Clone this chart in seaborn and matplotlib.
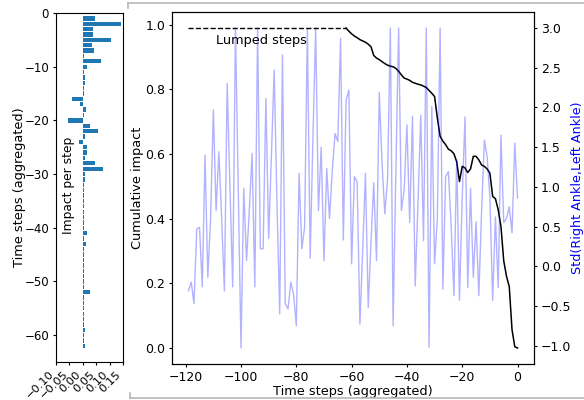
import numpy as np
import pandas as pd
import seaborn as sns
import matplotlib.pyplot as plt
from matplotlib.lines import Line2D

# impact per aggregated step (t = -1 ... -62)
steps = list(range(-1, -63, -1))
impact = [0.046, 0.143, 0.0375, 0.0375, 0.105, 0.035, 0.0425, 0.005, 0.069, 0.0175,
          0.005, 0.009, 0.009, 0.005, 0.004, -0.041, -0.010, 0.0125, 0.004, -0.054,
          0.0275, 0.055, 0.0075, -0.0125, 0.0175, 0.0175, 0.0075, 0.046, 0.074, 0.009,
          0.010, 0.005, 0.005, 0.006, 0.004, 0.004, 0.005, 0.006, 0.004, 0.004,
          0.015, 0.004, 0.0125, 0.004, 0.004, 0.005, 0.004, 0.004, 0.005, 0.004,
          0.004, 0.0275, 0.004, 0.004, 0.004, 0.004, 0.005, 0.004, 0.009, 0.004,
          0.004, 0.009]

# cumulative impact (t = -62 ... 0)
cum_steps = list(range(-62, 1))
cum_impact = [0.99, 0.98, 0.972, 0.965, 0.96, 0.954, 0.95, 0.946, 0.94, 0.932,
              0.905, 0.897, 0.892, 0.886, 0.88, 0.875, 0.872, 0.87, 0.865, 0.856,
              0.845, 0.835, 0.832, 0.828, 0.822, 0.819, 0.816, 0.814, 0.81, 0.806,
              0.797, 0.788, 0.778, 0.712, 0.655, 0.64, 0.629, 0.615, 0.61, 0.601,
              0.576, 0.515, 0.562, 0.557, 0.543, 0.554, 0.593, 0.593, 0.582, 0.566,
              0.562, 0.554, 0.541, 0.469, 0.462, 0.428, 0.376, 0.27, 0.222, 0.19,
              0.057, 0.004, 0.0]

# lumped steps before the detailed window
lumped_x = [-119, -62]
lumped_y = [0.99, 0.99]

# std of right/left ankle (t = -119 ... 0)
std_steps = list(range(-119, 1))
std_vals = [-0.31, -0.20, -0.47, 0.47, 0.49, -0.26, 1.40, -0.14, 0.6, 1.97,
            0.70, 1.44, 0.6, -0.31, 2.30, 1.0, -0.26, 3.0, 1.0, -1.03,
            0.98, 0.07, 0.7, 1.42, -0.26, 3.0, 0.22, 0.22, 2.11, 0.35,
            1.4, 2.47, 0.8, -0.60, 2.66, -0.47, -0.54, -0.20, -0.35, -0.75,
            1.17, 0.22, 0.49, 3.0, 0.1, 1.6, 3.0, 0.70, 1.50, 0.07,
            1.23, 0.6, 1.2, 1.67, 1.57, 2.87, 0.33, 2.09, 2.22, 0.03,
            1.13, 1.06, -0.73, 0.2, 1.17, -0.52, 0.3, 1.05, 0.07, 2.19,
            1.3, 0.66, 1.1, 3.0, -0.75, 1.2, 3.0, 0.70, 0.96, 1.78,
            0.55, 1.89, -0.25, 0.8, 1.90, 0.32, 3.0, -1.02, 2.01, 0.03,
            0.6, 3.0, -0.29, 1.13, 1.19, 0.5, -0.37, 1.34, -0.43, 0.87,
            1.88, -0.27, 0.98, -0.14, 0.56, -0.37, 0.7, 1.59, 1.38, 0.87,
            -0.43, 0.62, -0.27, 1.65, 0.55, 0.6, 0.75, 0.42, 1.55, 0.86]

df_bar = pd.DataFrame({"step": steps, "impact": impact})

plt.rcParams["xtick.major.size"] = 2.5
plt.rcParams["ytick.major.size"] = 2.5
plt.rcParams["xtick.major.pad"] = 2.5
plt.rcParams["ytick.major.pad"] = 2.5

fig = plt.figure(figsize=(5.84, 4), dpi=100)
ax0 = fig.add_axes([56/584, 38/400, 67/584, 349/400])
ax1 = fig.add_axes([172/584, 36/400, 362/584, 352/400])

# left: impact per step
sns.barplot(data=df_bar, x="impact", y="step", orient="h", native_scale=True,
            color="#1f77b4", saturation=1, width=0.8, errorbar=None, ax=ax0)
ax0.set_ylim(-65, 0)
ax0.set_xlim(-0.1, 0.15)
ax0.set_xticks([-0.10, -0.05, 0.00, 0.05, 0.10, 0.15])
ax0.set_xticklabels(["−0.10", "−0.05", "0.00", "0.05", "0.10", "0.15"],
                    rotation=45, ha="right", rotation_mode="default", fontsize=8.2)
ax0.set_xlabel("")
ax0.set_ylabel("Time steps (aggregated)", fontsize=9.3, labelpad=-1)
ax0.text(0.18, 0.506, "Impact per step", transform=ax0.transAxes, rotation=90,
         ha="center", va="center", fontsize=8.8)
ax0.tick_params(axis="y", labelsize=8.5)

# right: cumulative impact + std on twin axis
sns.lineplot(x=cum_steps, y=cum_impact, color="black", lw=1.1, ax=ax1)
sns.lineplot(x=lumped_x, y=lumped_y, color="black", lw=1, linestyle="--", ax=ax1)
ax1.text(-109, 0.95, "Lumped steps", fontsize=9.3, va="center", ha="left")
ax1.set_xlabel("Time steps (aggregated)", fontsize=9.3, labelpad=1)
ax1.set_ylabel("Cumulative impact", fontsize=9.3, labelpad=0.5)
ax1.tick_params(labelsize=9)

ax2 = ax1.twinx()
sns.lineplot(x=std_steps, y=std_vals, color="blue", alpha=0.3, lw=1, ax=ax2)
ax2.set_ylabel("Std(Right Ankle,Left Ankle)", color="blue", fontsize=9.2, labelpad=0)
ax2.tick_params(labelsize=9)
ax1.set_xlim(-124.95, 5.95)

# light frame of the output cell
grey = "#b8b8b8"
fig.add_artist(Line2D([128/584, 1], [1 - 3/400, 1 - 3/400], color=grey, lw=1.2))
fig.add_artist(Line2D([130/584, 1], [1 - 398/400, 1 - 398/400], color=grey, lw=1.2))
fig.add_artist(Line2D([128/584, 128/584], [1 - 3/400, 1 - 8/400], color=grey, lw=1.2))
fig.add_artist(Line2D([130/584, 130/584], [1 - 393/400, 1 - 398/400], color=grey, lw=1.2))

fig.savefig("out.png", dpi=100)
